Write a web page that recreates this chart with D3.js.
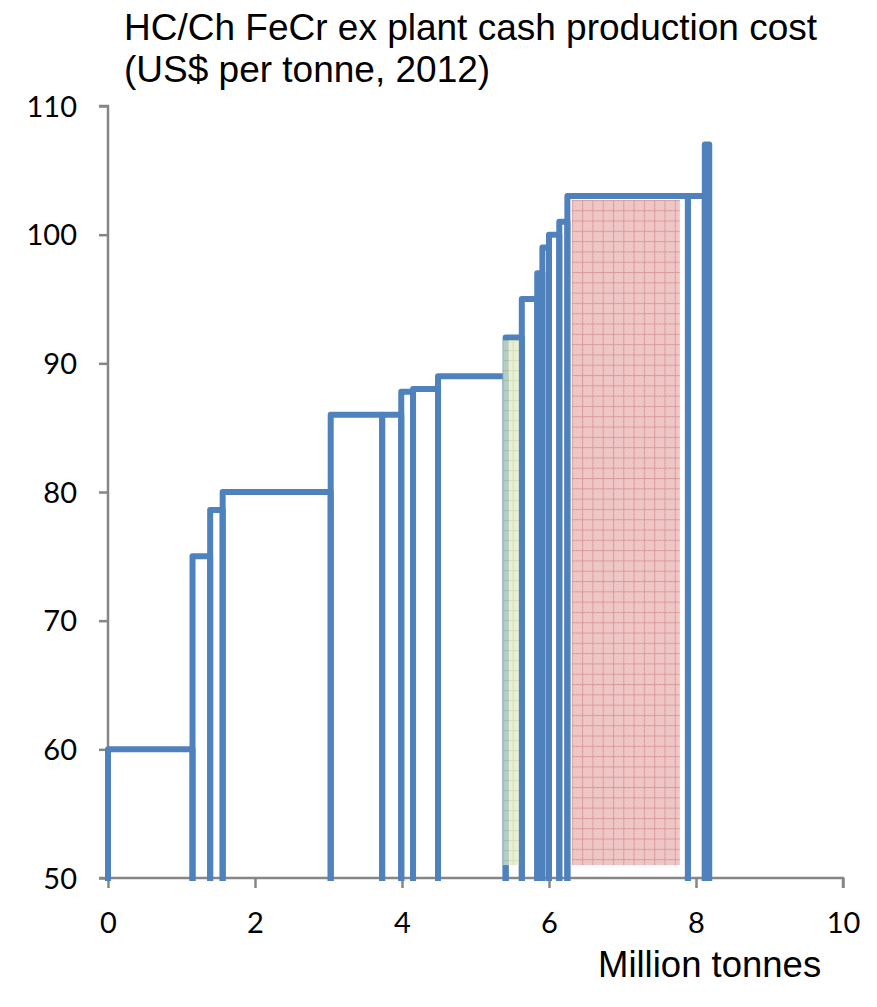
<!DOCTYPE html>
<html>
<head>
<meta charset="utf-8">
<script src="https://cdn.jsdelivr.net/npm/d3@7"></script>
<style>
  html, body { margin: 0; padding: 0; background: #ffffff; }
  svg { display: block; }
</style>
</head>
<body>
<div id="chart"></div>
<script>
// ---- Data ----
const titleLines = ["HC/Ch FeCr ex plant cash production cost", "(US$ per tonne, 2012)"];
const xAxisTitle = "Million tonnes";
// cumulative capacity boundaries (million tonnes) of each producer block
const blockStart = [0, 1.15, 1.39, 1.56, 3.03, 3.73, 3.99, 4.15, 4.49, 5.41, 5.63, 5.84, 5.91, 6.00, 6.14, 6.25, 7.89, 8.12];
const blockEnd   = [1.15, 1.39, 1.56, 3.03, 3.73, 3.99, 4.15, 4.49, 5.41, 5.63, 5.84, 5.91, 6.00, 6.14, 6.25, 7.89, 8.12, 8.18];
// cash cost of each block (US$ per tonne)
const blockCost  = [60, 75, 78.6, 80, 86, 86, 87.8, 88, 89, 92, 95, 97, 99, 100, 101, 103, 103, 107];
// highlighted regions
const greenBand = { x0: 5.37, x1: 5.59, y0: 51, y1: 91.8 };
const redBand   = { x0: 6.31, x1: 7.78, y0: 51, y1: 102.7 };
const xTicks = [0, 2, 4, 6, 8, 10];
const yTicks = [50, 60, 70, 80, 90, 100, 110];

// ---- Layout ----
const W = 877, H = 1007;
const svg = d3.select("#chart").append("svg").attr("width", W).attr("height", H);

const x = d3.scaleLinear().domain([0, 10]).range([108, 843]);
const y = d3.scaleLinear().domain([50, 110]).range([878, 106]);

const defs = svg.append("defs");
// red hatched pattern
const pr = defs.append("pattern").attr("id", "redPat").attr("patternUnits", "userSpaceOnUse")
  .attr("width", 10.3).attr("height", 10.3).attr("x", x(redBand.x0)).attr("y", y(redBand.y1));
pr.append("rect").attr("width", 10.3).attr("height", 10.3).attr("fill", "#efc9c8");
for (let i = 0; i < 5; i++) for (let j = 0; j < 5; j++) if ((i + j) % 2 === 0)
  pr.append("rect").attr("x", 1 + i * 2).attr("y", 1 + j * 2).attr("width", 1).attr("height", 1).attr("fill", "#e8b6b5");
pr.append("rect").attr("x", 0).attr("y", 0).attr("width", 10.3).attr("height", 1).attr("fill", "#dc9e9d");
pr.append("rect").attr("x", 0).attr("y", 0).attr("width", 1).attr("height", 10.3).attr("fill", "#dc9e9d");

// green hatched pattern
const pg = defs.append("pattern").attr("id", "greenPat").attr("patternUnits", "userSpaceOnUse")
  .attr("width", 10).attr("height", 10).attr("x", x(greenBand.x0)).attr("y", y(greenBand.y1));
pg.append("rect").attr("width", 10).attr("height", 10).attr("fill", "#dfe9c4");
pg.append("rect").attr("x", 0).attr("y", 0).attr("width", 10).attr("height", 1).attr("fill", "#bfd494");
pg.append("rect").attr("x", 0).attr("y", 0).attr("width", 1).attr("height", 10).attr("fill", "#bfd494");

// ---- Axes ----
const axisColor = "#868686";
const yAxis = svg.append("g").attr("transform", `translate(${x(0)},0)`)
  .call(d3.axisLeft(y).tickValues(yTicks).tickSize(9).tickFormat(d3.format("d")));
const xAxis = svg.append("g").attr("transform", `translate(0,${y(50)})`)
  .call(d3.axisBottom(x).tickValues(xTicks).tickSize(10).tickFormat(d3.format("d")));
[xAxis, yAxis].forEach(g => {
  g.select(".domain").attr("stroke", axisColor).attr("stroke-width", 2.5);
  g.selectAll(".tick line").attr("stroke", axisColor).attr("stroke-width", 2.5);
  g.selectAll(".tick text").attr("fill", "#000").attr("font-family", "Lato, 'Open Sans', sans-serif")
    .attr("font-size", 29);
});
yAxis.select(".domain").attr("d", `M0,${y(110)}H-9H0V${y(50)}`);
yAxis.selectAll(".tick text").attr("x", -31).attr("dy", "0.35em");
xAxis.select(".domain").attr("d", `M${x(0) - 9},0H${x(10)}V10`);
xAxis.selectAll(".tick text").attr("y", 55).attr("dy", 0);

// ---- Blocks ----
const blocks = blockCost.map((c, i) => ({ x0: blockStart[i], x1: blockEnd[i], c }));
svg.append("g").selectAll("path").data(blocks).join("path")
  .attr("d", d => `M${x(d.x0)},${y(50) + 3}V${y(d.c)}H${x(d.x1)}V${y(50) + 3}`)
  .attr("fill", "none")
  .attr("stroke", "#4f81bd")
  .attr("stroke-width", 6)
  .attr("stroke-linejoin", "round");

// highlighted bands
svg.append("rect")
  .attr("x", x(greenBand.x0)).attr("y", y(greenBand.y1))
  .attr("width", x(greenBand.x1) - x(greenBand.x0)).attr("height", y(greenBand.y0) - y(greenBand.y1))
  .attr("fill", "url(#greenPat)").attr("opacity", 0.72);
svg.append("rect")
  .attr("x", x(redBand.x0)).attr("y", y(redBand.y1))
  .attr("width", x(redBand.x1) - x(redBand.x0)).attr("height", y(redBand.y0) - y(redBand.y1))
  .attr("fill", "url(#redPat)");

// ---- Titles ----
svg.append("g").selectAll("text").data(titleLines).join("text")
  .attr("x", 124).attr("y", (d, i) => 40 + i * 42)
  .attr("font-family", "'Liberation Sans', Arial, sans-serif").attr("font-size", 37)
  .attr("fill", "#000").text(d => d);

svg.append("text").attr("x", 598).attr("y", 977)
  .attr("font-family", "'Liberation Sans', Arial, sans-serif").attr("font-size", 36.5)
  .attr("fill", "#000").text(xAxisTitle);
</script>
</body>
</html>
